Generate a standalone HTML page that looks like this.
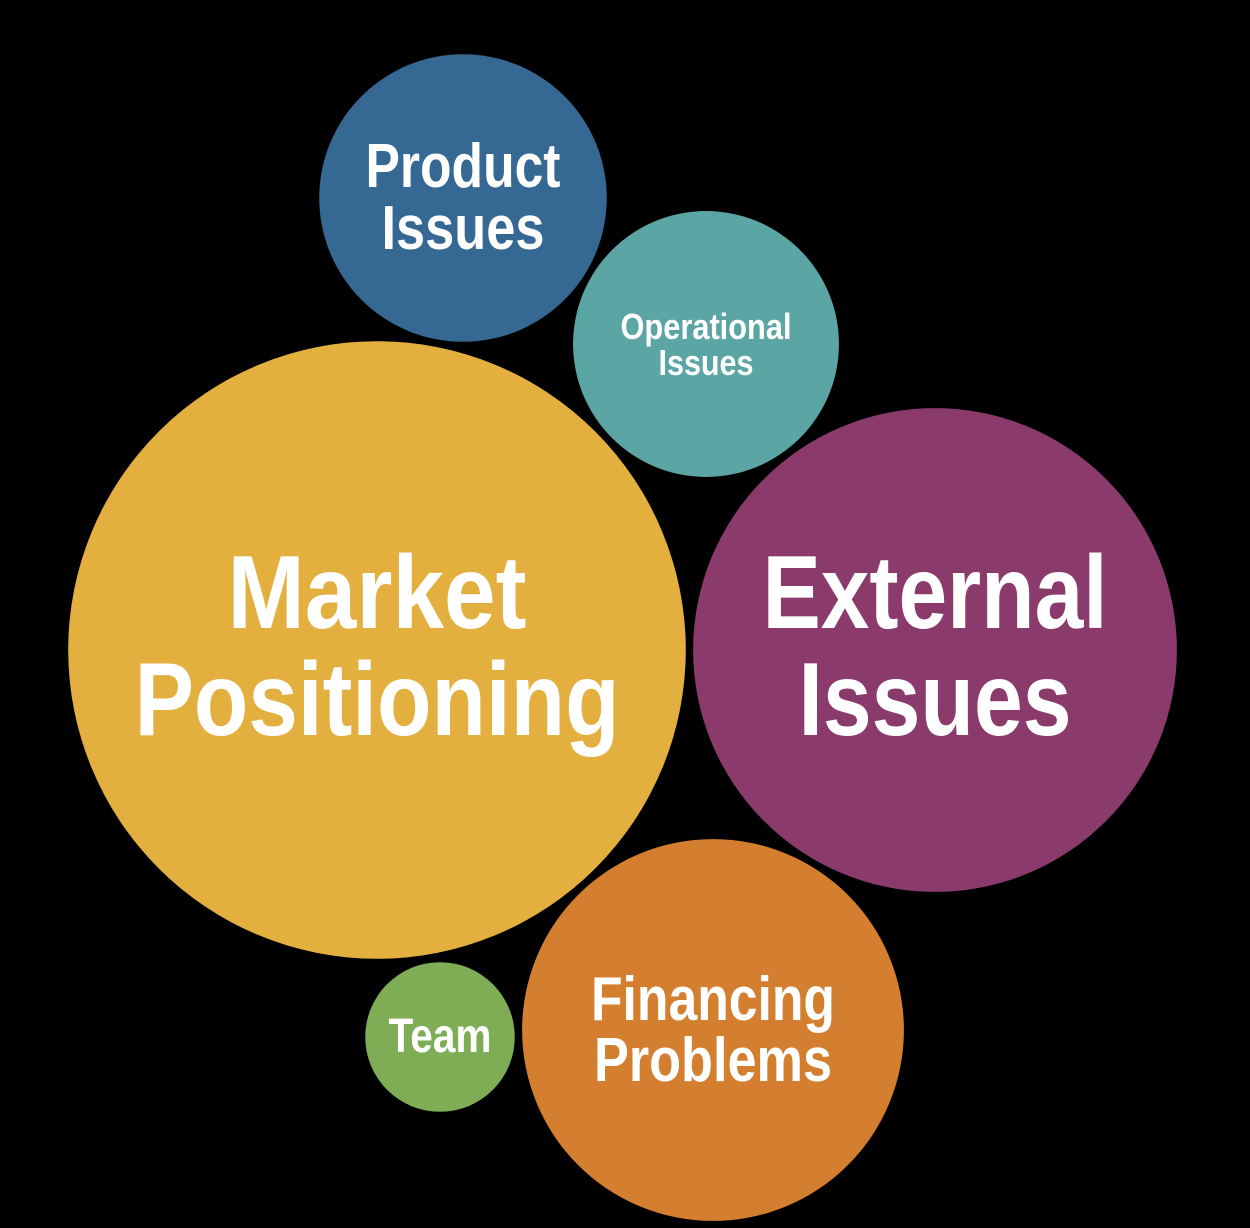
<!DOCTYPE html>
<html><head><meta charset="utf-8">
<style>
html,body{margin:0;padding:0;background:#000;}
svg{display:block;}
text{font-family:"Liberation Sans Narrow","Liberation Sans",sans-serif;font-weight:bold;fill:#fff;text-anchor:middle;}
</style></head>
<body>
<svg id="chart" width="1250" height="1228" viewBox="0 0 1250 1228"></svg>
<script>
const categories = ["Market Positioning","External Issues","Product Issues","Operational Issues","Financing Problems","Team"];
const values = [95.5, 58.6, 20.7, 17.7, 36.5, 5.6];
const colors = ["#E3AF3F","#8A3B6B","#356892","#5BA5A5","#D47E30","#7FAD55"];
const layoutX = [377, 935, 463, 706, 713, 440];
const layoutY = [650, 650, 198, 344, 1030, 1037];
const labelLines = [["Market","Positioning"],["External","Issues"],["Product","Issues"],["Operational","Issues"],["Financing","Problems"],["Team"]];
const fontSizes = [104, 104, 62, 36, 62, 48];
const lineWidths = [[299,485],[345,273],[195,163],[171,95],[244,238],[103]];
const lineOffsets = [[-22,85],[-22,85],[-11,51],[-5,31],[-10,51],[15]];

const rScale = v => Math.sqrt(v) * 31.6;
const svg = document.getElementById('chart');
const NS = "http://www.w3.org/2000/svg";
categories.forEach((c, i) => {
  const g = document.createElementNS(NS, 'g');
  
  
  const circ = document.createElementNS(NS, 'circle');
  circ.setAttribute('cx', layoutX[i]);
  circ.setAttribute('cy', layoutY[i]);
  circ.setAttribute('r', rScale(values[i]));
  circ.setAttribute('fill', colors[i]);
  
  
  g.appendChild(circ);
  labelLines[i].forEach((ln, j) => {
    const t = document.createElementNS(NS, 'text');
    t.setAttribute('x', layoutX[i]);
    t.setAttribute('y', layoutY[i] + lineOffsets[i][j]);
    t.setAttribute('font-size', fontSizes[i]);
    t.setAttribute('textLength', lineWidths[i][j]);
    t.setAttribute('lengthAdjust', 'spacingAndGlyphs');
    
    
    t.textContent = ln;
    g.appendChild(t);
  });
  svg.appendChild(g);
});
</script>
</body></html>
